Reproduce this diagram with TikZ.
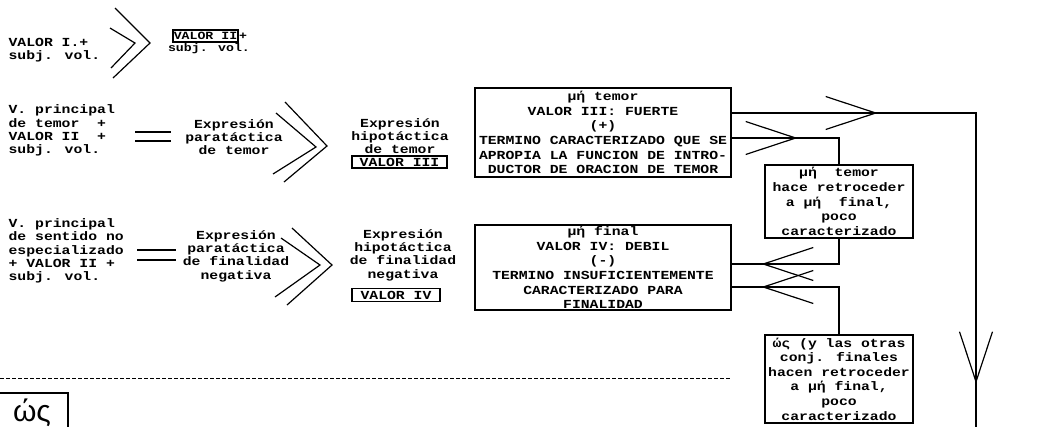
\documentclass[tikz,border=0pt]{standalone}
\usepackage{fontspec}
\setmainfont{Liberation Mono}[FakeStretch=1.2]
\newfontfamily\manofont{Liberation Sans}
\usetikzlibrary{arrows.meta, decorations.markings}
\newcommand{\fuente}{\fontsize{12.3}{13.3}\selectfont\bfseries}
\newcommand{\fuentechica}{\fontsize{11}{11.5}\selectfont\bfseries}
\newcommand{\fuentecaja}{\fontsize{12.3}{14.6}\selectfont\bfseries}

\begin{document}
\begin{tikzpicture}[x=1pt,y=-1pt,line width=1.2pt,
    texto/.style={inner sep=0pt,anchor=west,align=left,font=\fuente},
    bloque/.style={inner sep=0pt,align=center,font=\fuente},
    caja/.style={draw,inner sep=0pt,align=center,font=\fuentecaja},
    cajita/.style={draw,inner sep=0pt,font=\fuente},
    flecha/.style={postaction={decorate,decoration={markings,
        mark=at position #1 with {\arrow{Straight Barb[length=50pt,width=33pt]}}}}}]
        \useasboundingbox (0,0) rectangle (1042,426);
        %primera fila
        \node[texto] (vi) at (8,50) {VALOR I.+\\subj. vol.};
        \draw (115,8)--(150,43)--(113,78);
        \draw (110,28)--(135,43)--(111,68);
        \node[cajita,font=\fuentechica,minimum width=65pt,minimum height=12pt] (vii) at (205.5,36) {VALOR II};
        \node[inner sep=0pt,font=\fuentechica] (mas) at (243,36) {+};
        \node[inner sep=0pt,font=\fuentechica] (sv) at (209,49) {subj. vol.};
        %segunda fila
        \node[texto] (vpt) at (8,130.5) {V. principal\\de temor~~+\\VALOR II~~+\\subj. vol.};
        \draw (135,132)--(171,132);
        \draw (135,141)--(171,141);
        \node[bloque] (pt) at (234,137) {Expresión\\paratáctica\\de temor};
        \draw (285,102)--(327,146)--(284,182);
        \draw (276,113)--(316,147)--(273,174);
        \node[bloque] (ht) at (400,136) {Expresión\\hipotáctica\\de temor};
        \node[cajita,minimum width=95pt,minimum height=12pt] (viii) at (399.5,162) {VALOR III};
        %tercera fila
        \node[texto] (vps) at (8,251) {V. principal\\de sentido no\\especializado\\+ VALOR II +\\subj. vol.};
        \draw (137,250)--(176,250);
        \draw (137,260)--(176,260);
        \node[bloque] (pf) at (236,256) {Expresión\\paratáctica\\de finalidad\\negativa};
        \draw (292,228)--(332,265)--(287,305);
        \draw (281,238)--(320,265)--(275,297);
        \node[bloque] (hf) at (403,255) {Expresión\\hipotáctica\\de finalidad\\negativa};
        \node[cajita,minimum width=88pt,minimum height=13pt] (viv) at (396,295) {VALOR IV};
        %cajas grandes
        \node[caja,minimum width=256pt,minimum height=89pt] (fuerte) at (603,132.5) {μή temor\\VALOR III: FUERTE\\(+)\\TERMINO CARACTERIZADO QUE SE\\APROPIA LA FUNCION DE INTRO-\\DUCTOR DE ORACION DE TEMOR};
        \node[caja,minimum width=256pt,minimum height=85pt] (debil) at (603,267.5) {μή final\\VALOR IV: DEBIL\\(-)\\TERMINO INSUFICIENTEMENTE\\CARACTERIZADO PARA\\FINALIDAD};
        \node[caja,minimum width=148pt,minimum height=73pt] (rtemor) at (839,201.5) {μή~~temor\\hace retroceder\\a μή~~final,\\poco\\caracterizado};
        \node[caja,minimum width=148pt,minimum height=88pt] (rfinal) at (839,379) {ώς (y las otras\\conj. finales\\hacen retroceder\\a μή final,\\poco\\caracterizado};
        %conexiones
        \coordinate (c1) at (976,113);
        \coordinate (fondo) at (976,430);
        \coordinate (c2) at (839,138);
        \coordinate (c3) at (839,264);
        \coordinate (c4) at (839,287);
        \draw[flecha=146pt,flecha=515pt] (fuerte.east |- c1)--(c1)--(fondo);
        \draw[flecha=66pt] (fuerte.east |- c2)--(c2)--(rtemor.north);
        \draw[flecha=103pt] (rtemor.south)--(c3)--(debil.east |- c3);
        \draw[flecha=125pt] (rfinal.north)--(c4)--(debil.east |- c4);
        %linea de corte
        \draw[line width=1pt,dash pattern=on 4pt off 2pt] (0,378)--(730,378);
        \node[draw,inner sep=0pt,minimum width=72pt,minimum height=40pt,font=\manofont\fontsize{30}{30}\selectfont] (ws) at (32,413) {ώς};
    \end{tikzpicture}
\end{document}
